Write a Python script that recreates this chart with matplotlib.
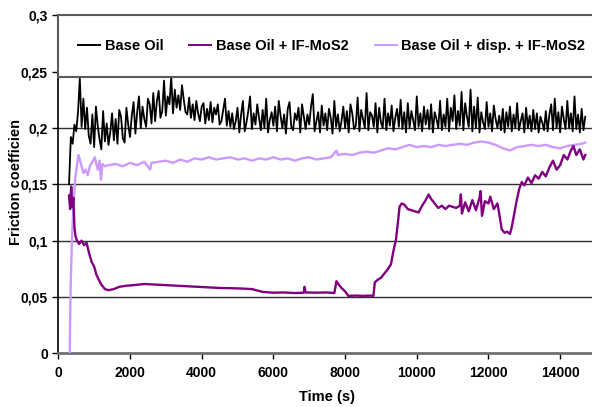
import numpy as np
import matplotlib.pyplot as plt
from matplotlib.lines import Line2D
from matplotlib.patches import Rectangle

plt.rcParams['font.family'] = ['Liberation Sans', 'DejaVu Sans']
plt.rcParams['font.weight'] = 'bold'

# Base oil: sampled every 50 s, 300 .. 14700 s
t_base = np.arange(300, 14701, 50)
base_oil = [
    0.150, 0.192, 0.186, 0.203, 0.197, 0.214, 0.244, 0.201, 0.226, 0.199,
    0.218, 0.193, 0.186, 0.212, 0.183, 0.219, 0.202, 0.190, 0.181, 0.215,
    0.188, 0.204, 0.185, 0.196, 0.213, 0.189, 0.208, 0.186, 0.216, 0.210,
    0.191, 0.187, 0.218, 0.203, 0.192, 0.211, 0.223, 0.195, 0.214, 0.228,
    0.200, 0.219, 0.208, 0.201, 0.226, 0.221, 0.204, 0.231, 0.206, 0.224,
    0.233, 0.209, 0.215, 0.242, 0.211, 0.228, 0.221, 0.245, 0.213, 0.234,
    0.218, 0.229, 0.216, 0.238, 0.225, 0.214, 0.212, 0.227, 0.209, 0.221,
    0.207, 0.224, 0.213, 0.206, 0.219, 0.222, 0.204, 0.217, 0.207, 0.223,
    0.205, 0.218, 0.212, 0.221, 0.203, 0.206, 0.216, 0.226, 0.202, 0.215,
    0.201, 0.213, 0.199, 0.206, 0.218, 0.196, 0.212, 0.224, 0.197, 0.205,
    0.215, 0.228, 0.199, 0.213, 0.203, 0.221, 0.209, 0.198, 0.216, 0.200,
    0.226, 0.196, 0.207, 0.214, 0.202, 0.219, 0.197, 0.224, 0.211, 0.200,
    0.212, 0.195, 0.217, 0.223, 0.201, 0.198, 0.213, 0.207, 0.218, 0.196,
    0.221, 0.210, 0.199, 0.212, 0.203, 0.219, 0.230, 0.197, 0.206, 0.214,
    0.196, 0.220, 0.202, 0.213, 0.198, 0.217, 0.209, 0.195, 0.224, 0.201,
    0.212, 0.197, 0.206, 0.219, 0.200, 0.215, 0.196, 0.221, 0.213, 0.199,
    0.202, 0.227, 0.197, 0.216, 0.208, 0.200, 0.231, 0.198, 0.214, 0.211,
    0.201, 0.222, 0.196, 0.218, 0.205, 0.200, 0.226, 0.198, 0.213, 0.202,
    0.220, 0.197, 0.209, 0.217, 0.201, 0.225, 0.199, 0.214, 0.196, 0.222,
    0.200, 0.215, 0.207, 0.198, 0.228, 0.201, 0.213, 0.197, 0.219, 0.203,
    0.216, 0.199, 0.221, 0.196, 0.214, 0.208, 0.200, 0.224, 0.198, 0.212,
    0.201, 0.226, 0.197, 0.218, 0.206, 0.229, 0.199, 0.215, 0.202, 0.232,
    0.198, 0.222, 0.210, 0.201, 0.234, 0.197, 0.219, 0.200, 0.227, 0.196,
    0.214, 0.205, 0.199, 0.223, 0.201, 0.213, 0.197, 0.220, 0.208, 0.200,
    0.211, 0.198, 0.217, 0.196, 0.214, 0.201, 0.219, 0.197, 0.212, 0.200,
    0.222, 0.198, 0.206, 0.213, 0.196, 0.218, 0.200, 0.211, 0.197, 0.216,
    0.199, 0.213, 0.196, 0.210, 0.205, 0.198, 0.215, 0.197, 0.212, 0.221,
    0.198, 0.226, 0.200, 0.214, 0.196, 0.219, 0.208, 0.199, 0.224, 0.200,
    0.213, 0.197, 0.228, 0.199, 0.212, 0.196, 0.217, 0.198, 0.210,
]

# Base oil + IF-MoS2
t_ifmos2 = [
    300, 330, 360, 390, 420, 450, 480, 520, 580, 650, 720, 790, 850, 930,
    1000, 1060, 1120, 1200, 1300, 1400, 1550, 1700, 1900, 2100, 2400, 2700,
    3000, 3300, 3600, 3900, 4200, 4500, 4800, 5100, 5400, 5700, 6000, 6300,
    6600, 6850, 6870, 6900, 7200, 7500, 7700, 7760, 7800, 7900, 8000, 8090,
    8300, 8500, 8700, 8790, 8830, 8900, 9000, 9100, 9200, 9280, 9350, 9420,
    9480, 9520, 9580, 9650, 9750, 9850, 9950, 10050, 10150, 10250, 10330,
    10400, 10500, 10600, 10700, 10800, 10900, 11000, 11100, 11200, 11230,
    11260, 11350, 11450, 11550, 11650, 11750, 11780, 11820, 11900, 12000,
    12050, 12150, 12250, 12300, 12370, 12450, 12520, 12600, 12650, 12720,
    12790, 12860, 12930, 13000, 13100, 13200, 13300, 13400, 13500, 13600,
    13700, 13800, 13900, 14000, 14100, 14200, 14300, 14370, 14450, 14550,
    14650, 14700,
]
ifmos2 = [
    0.140, 0.128, 0.148, 0.130, 0.138, 0.112, 0.104, 0.100, 0.097, 0.100,
    0.096, 0.098, 0.090, 0.081, 0.077, 0.070, 0.066, 0.061, 0.057, 0.056,
    0.057, 0.059, 0.060, 0.0605, 0.0615, 0.061, 0.0605, 0.060, 0.0595,
    0.059, 0.0585, 0.058, 0.0578, 0.0575, 0.057, 0.0545, 0.0538, 0.054,
    0.0535, 0.0538, 0.059, 0.054, 0.0538, 0.054, 0.0535, 0.064, 0.062,
    0.058, 0.055, 0.051, 0.0512, 0.051, 0.0512, 0.051, 0.063, 0.065, 0.067,
    0.071, 0.075, 0.079, 0.091, 0.101, 0.118, 0.130, 0.133, 0.132, 0.128,
    0.127, 0.126, 0.125, 0.131, 0.136, 0.141, 0.137, 0.133, 0.129, 0.131,
    0.128, 0.131, 0.130, 0.129, 0.131, 0.141, 0.124, 0.134, 0.126, 0.136,
    0.127, 0.138, 0.144, 0.122, 0.135, 0.133, 0.139, 0.128, 0.133, 0.124,
    0.110, 0.107, 0.108, 0.106, 0.112, 0.124, 0.136, 0.146, 0.152, 0.149,
    0.156, 0.151, 0.158, 0.155, 0.161, 0.157, 0.165, 0.171, 0.163, 0.167,
    0.176, 0.172, 0.180, 0.184, 0.176, 0.181, 0.172, 0.176,
]

# Base oil + dispersant + IF-MoS2
t_disp = [
    320, 330, 345, 380, 420, 470, 520, 560, 600, 650, 700, 760, 820, 880,
    950, 1020, 1060, 1100, 1150, 1190, 1230, 1300, 1400, 1600, 1800, 2000,
    2200, 2400, 2560, 2600, 2800, 3000, 3200, 3400, 3600, 3800, 4000, 4200,
    4400, 4600, 4800, 5000, 5200, 5400, 5600, 5800, 6000, 6200, 6400, 6600,
    6800, 7000, 7200, 7400, 7600, 7760, 7800, 8000, 8200, 8400, 8600, 8800,
    9000, 9200, 9400, 9600, 9800, 10000, 10200, 10400, 10600, 10800, 11000,
    11200, 11400, 11600, 11800, 12000, 12200, 12400, 12600, 12800, 13000,
    13200, 13400, 13600, 13800, 14000, 14200, 14400, 14600, 14700,
]
disp = [
    0.000, 0.030, 0.060, 0.100, 0.130, 0.155, 0.166, 0.176, 0.172, 0.166,
    0.160, 0.163, 0.158, 0.166, 0.170, 0.174, 0.168, 0.163, 0.171, 0.154,
    0.168, 0.166, 0.167, 0.168, 0.166, 0.169, 0.167, 0.170, 0.163, 0.169,
    0.170, 0.171, 0.169, 0.172, 0.170, 0.173, 0.172, 0.174, 0.172, 0.173,
    0.174, 0.172, 0.173, 0.171, 0.173, 0.172, 0.174, 0.172, 0.173, 0.171,
    0.173, 0.174, 0.172, 0.173, 0.174, 0.180, 0.176, 0.177, 0.176, 0.178,
    0.179, 0.178, 0.180, 0.182, 0.181, 0.183, 0.185, 0.183, 0.184, 0.183,
    0.185, 0.184, 0.185, 0.186, 0.185, 0.187, 0.188, 0.187, 0.185, 0.182,
    0.180, 0.183, 0.184, 0.185, 0.184, 0.185, 0.183, 0.182, 0.184, 0.185,
    0.186, 0.187,
]

labels = ['Base Oil', 'Base Oil + IF-MoS2', 'Base Oil + disp. + IF-MoS2']
colors = ['black', '#800080', '#cc99ff']

y_ticks = [0, 0.05, 0.1, 0.15, 0.2, 0.25, 0.3]
y_ticklabels = ['0', '0,05', '0,1', '0,15', '0,2', '0,25', '0,3']
x_ticks = [0, 2000, 4000, 6000, 8000, 10000, 12000, 14000]

fig = plt.figure(figsize=(5.92, 4.07), dpi=100)
ax = fig.add_axes([58.3 / 592, 1 - 353.3 / 407, (596 - 58.3) / 592, 338 / 407])

for y in [0.05, 0.1, 0.15, 0.2, 0.25]:
    ax.axhline(y, color='#303030', lw=1.0, zorder=1)

ax.plot(t_base, base_oil, color=colors[0], lw=1.3, zorder=3)
ax.plot(t_disp, disp, color=colors[2], lw=1.7, zorder=3)
ax.plot(t_ifmos2, ifmos2, color=colors[1], lw=1.7, zorder=4)

ax.set_xlim(0, 15000)
ax.set_ylim(0, 0.3)
ax.set_xticks(x_ticks)
ax.set_xticklabels([str(v) for v in x_ticks])
ax.set_yticks(y_ticks)
ax.set_yticklabels(y_ticklabels)

for s in ['top', 'right']:
    ax.spines[s].set_visible(False)
ax.spines['left'].set_color('black')
ax.spines['left'].set_linewidth(1.2)
ax.spines['bottom'].set_color('#707070')
ax.spines['bottom'].set_linewidth(2)

ax.tick_params(axis='both', direction='out', length=4, width=1, labelsize=10)
ax.tick_params(axis='x', pad=5)
ax.tick_params(axis='y', pad=3.5)

ax.set_xlabel('Time (s)', fontsize=10.5, fontweight='bold')
ax.xaxis.set_label_coords(0.5, -0.11)
ax.set_ylabel('Friction coefficien', fontsize=10.5, fontweight='bold')
ax.yaxis.set_label_coords(-0.066, 0.508)

# legend box across the top of the plot area
box = Rectangle((0, 0.818), 1.0, 0.182, transform=ax.transAxes,
                facecolor='white', edgecolor='#5a5a5a', lw=1.5,
                zorder=5, clip_on=False)
ax.add_patch(box)
handles = [Line2D([], [], color=c, lw=1.4) for c in colors]
leg = ax.legend(handles, labels, loc='center left',
                bbox_to_anchor=(0.0236, 0.909), ncol=3, frameon=False,
                borderpad=0, handlelength=1.5, handletextpad=0.3,
                columnspacing=1.8, prop={'weight': 'bold', 'size': 10.5})
leg.set_zorder(6)

fig.savefig('out.png', dpi=100)
